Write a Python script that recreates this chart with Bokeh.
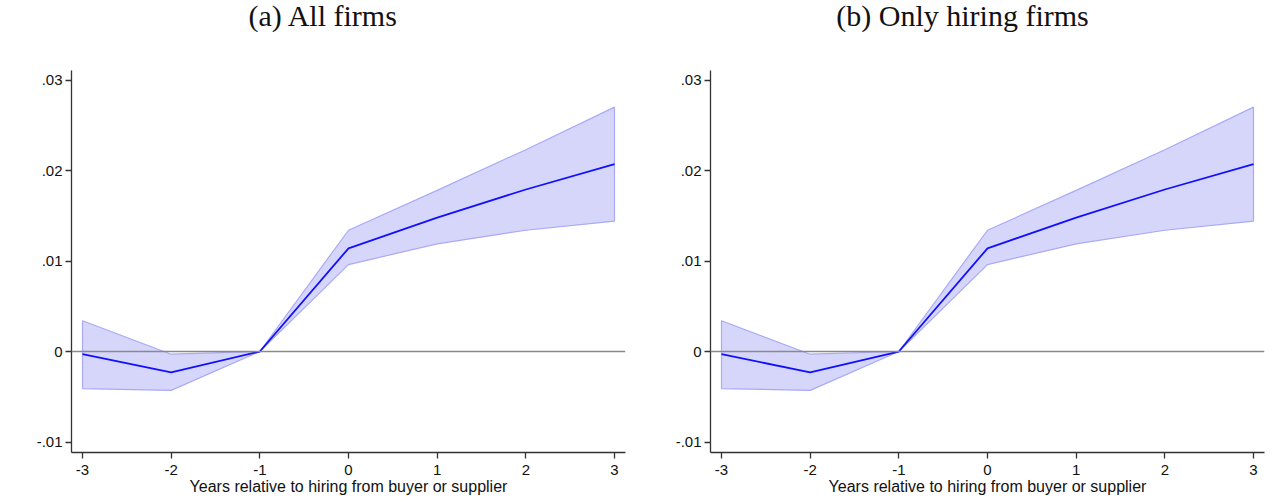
import numpy as np
from bokeh.plotting import figure
from bokeh.layouts import row
from bokeh.models import Span, Label, FixedTicker, CustomJSTickFormatter, Range1d
from bokeh.embed import file_html
from bokeh.resources import INLINE

years = [-3, -2, -1, 0, 1, 2, 3]
estimate = [-0.0003, -0.0023, 0.0, 0.0114, 0.0148, 0.0179, 0.0207]
upper_ci = [0.0034, -0.0003, 0.0, 0.0134, 0.0178, 0.0223, 0.0270]
lower_ci = [-0.0041, -0.0043, 0.0, 0.0096, 0.0119, 0.0134, 0.0144]
y_ticks = [-0.01, 0.0, 0.01, 0.02, 0.03]
x_label = "Years relative to hiring from buyer or supplier"
titles = ["(a) All firms", "(b) Only hiring firms"]

FRAME_W = 554
FRAME_H = 452
Y_BOTTOM = -0.01116
Y_AXIS_TOP = 0.0310
Y_FRAME_TOP = 0.038785


def make_panel(title, border_left, width):
    p = figure(width=width, height=502, output_backend="svg", toolbar_location=None,
               x_range=Range1d(-3.124, 3.124), y_range=Range1d(Y_BOTTOM, Y_FRAME_TOP),
               min_border_left=border_left, min_border_right=width - border_left - FRAME_W,
               min_border_top=0, min_border_bottom=50)
    p.outline_line_color = None
    p.grid.visible = False
    p.background_fill_color = "white"
    p.border_fill_color = "white"

    p.add_layout(Span(location=0, dimension="width", line_color="#8a8a8a", line_width=1.5))

    xs = np.array(years, dtype=float)
    px = np.concatenate([xs, xs[::-1]])
    py = np.concatenate([np.array(upper_ci), np.array(lower_ci)[::-1]])
    p.patch(px, py, fill_color="#d6d6fb", fill_alpha=1.0, line_color="#a9a9f7", line_width=1.2)
    p.line(years, estimate, line_color="#1010ff", line_width=1.8)

    for ax in (p.xaxis[0], p.yaxis[0]):
        ax.axis_line_color = "#333333"
        ax.axis_line_width = 1.3
        ax.major_tick_line_color = "#333333"
        ax.major_tick_line_width = 1.3
        ax.major_tick_out = 6
        ax.major_tick_in = 0
        ax.minor_tick_line_color = None
        ax.major_label_text_font = "Liberation Sans"
        ax.major_label_text_font_size = "15px"
        ax.major_label_text_color = "#111111"

    p.xaxis.ticker = FixedTicker(ticks=years)
    p.xaxis.formatter = CustomJSTickFormatter(code="return tick.toString();")
    p.xaxis.major_label_standoff = 6
    p.xaxis.axis_label = x_label
    p.xaxis.axis_label_text_font = "Liberation Sans"
    p.xaxis.axis_label_text_font_size = "16px"
    p.xaxis.axis_label_text_font_style = "normal"
    p.xaxis.axis_label_text_color = "#111111"
    p.xaxis.axis_label_standoff = 0

    p.yaxis.ticker = FixedTicker(ticks=y_ticks)
    p.yaxis.bounds = (Y_BOTTOM, Y_AXIS_TOP)
    p.yaxis.formatter = CustomJSTickFormatter(
        code="if (Math.abs(tick) < 1e-9) return '0'; return tick.toFixed(2).replace('0.', '.');")
    p.yaxis.major_label_orientation = "horizontal"
    p.yaxis.major_label_standoff = 3

    p.add_layout(Label(x=252, y=FRAME_H - 15, x_units="screen", y_units="screen",
                       text=title, text_font="Liberation Serif", text_font_size="30px",
                       text_color="#111111", text_align="center", text_baseline="alphabetic"))
    return p


p1 = make_panel(titles[0], 71, 638)
p2 = make_panel(titles[1], 72, 638)
layout = row(p1, p2, spacing=0)

open("out.html", "w").write(file_html(layout, INLINE))
